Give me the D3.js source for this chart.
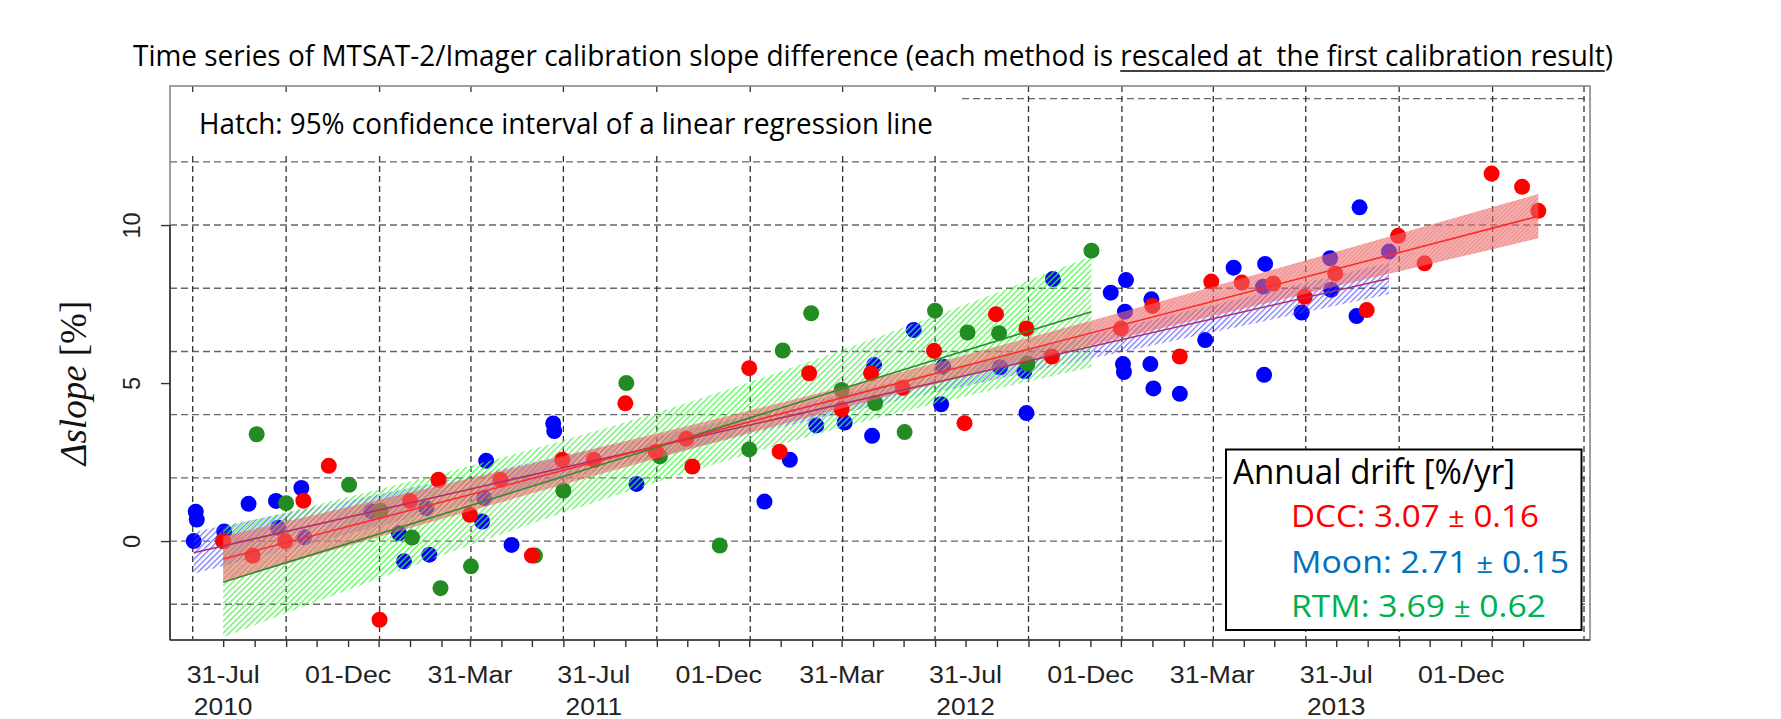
<!DOCTYPE html>
<html>
<head>
<meta charset="utf-8">
<script src="https://cdn.jsdelivr.net/npm/d3@7"></script>
<style>
  body { margin: 0; background: #fff; }
  svg { display: block; }
  text { white-space: pre; }
</style>
</head>
<body>
<div id="chart"></div>
<script>
// MTSAT-2/Imager slope difference
const parseDate = d3.timeParse("%Y-%m-%d");

// DCC (red)
const dccDates = ["2010-07-31","2010-08-29","2010-09-30","2010-10-18","2010-11-12","2011-01-01","2011-01-31","2011-02-28","2011-03-31","2011-04-30","2011-05-31","2011-06-30","2011-07-31","2011-08-31","2011-09-30","2011-10-30","2011-11-05","2011-12-31","2012-01-30","2012-02-28","2012-03-31","2012-04-29","2012-05-30","2012-06-30","2012-07-30","2012-08-30","2012-09-29","2012-10-24","2012-12-31","2013-01-31","2013-02-27","2013-03-30","2013-04-29","2013-05-30","2013-06-30","2013-07-30","2013-08-30","2013-09-30","2013-10-26","2013-12-31","2014-01-30","2014-02-15"];
const dccValues = [0.0,-0.46,0.0,1.28,2.38,-2.49,1.27,1.94,0.83,1.94,-0.46,2.57,2.57,4.36,2.83,3.24,2.36,5.47,2.83,5.31,4.17,5.31,4.85,6.02,3.73,7.18,6.73,5.84,6.73,7.44,5.84,8.21,8.18,8.15,7.73,8.47,7.31,9.66,8.79,11.63,11.21,10.45];

// Moon (blue)
const moonDates = ["2010-07-02","2010-07-04","2010-07-05","2010-08-01","2010-08-25","2010-09-21","2010-09-23","2010-10-16","2010-10-19","2010-12-24","2011-01-20","2011-01-25","2011-02-16","2011-02-19","2011-04-12","2011-04-14","2011-04-16","2011-05-11","2011-06-21","2011-06-22","2011-09-11","2012-01-15","2012-02-09","2012-03-06","2012-04-03","2012-04-30","2012-05-02","2012-06-10","2012-07-07","2012-07-09","2012-09-03","2012-09-27","2012-09-29","2012-10-25","2012-12-21","2013-01-02","2013-01-03","2013-01-04","2013-01-05","2013-01-29","2013-01-30","2013-02-01","2013-02-27","2013-03-24","2013-04-21","2013-05-20","2013-05-21","2013-05-22","2013-06-27","2013-07-25","2013-07-26","2013-08-20","2013-08-23","2013-09-21"];
const moonValues = [0.0,0.93,0.68,0.30,1.18,1.27,0.42,1.68,0.12,0.94,0.25,-0.64,1.04,-0.43,0.62,1.36,2.54,-0.12,3.72,3.48,1.81,1.25,2.57,3.66,3.75,3.33,5.57,6.68,4.33,5.52,5.50,5.38,4.05,8.29,7.86,5.60,5.35,7.26,8.26,5.60,7.65,4.83,4.66,6.36,8.65,8.05,5.26,8.77,7.23,8.95,7.95,7.12,10.56,9.16];

// RTM (green)
const rtmDates = ["2010-07-31","2010-09-02","2010-10-01","2010-12-02","2011-01-02","2011-02-02","2011-03-02","2011-04-01","2011-06-03","2011-07-01","2011-09-01","2011-10-04","2011-12-02","2011-12-31","2012-02-02","2012-03-01","2012-03-31","2012-05-03","2012-06-01","2012-07-01","2012-08-02","2012-09-02","2012-09-30","2012-12-02"];
const rtmValues = [0.0,3.38,1.20,1.78,0.96,0.11,-1.49,-0.80,-0.46,1.60,5.00,2.68,-0.14,2.90,6.03,7.21,4.78,4.37,3.45,7.29,6.60,6.58,5.62,9.19];

// regression lines and 95% band half widths
const dccFitDates = ["2010-07-31","2011-06-19","2012-05-07","2013-03-28","2014-02-15"];
const dccFitMid = [-0.57, 2.14, 4.84, 7.56, 10.28];
const dccFitHalf = [0.72, 0.46, 0.33, 0.46, 0.70];

const moonFitDates = ["2010-07-02","2011-04-21","2012-02-10","2012-11-30","2013-09-21"];
const moonFitMid = [-0.37, 1.80, 3.97, 6.14, 8.31];
const moonFitHalf = [0.66, 0.42, 0.30, 0.38, 0.50];

const rtmFitDates = ["2010-07-31","2011-03-03","2011-10-02","2012-05-02","2012-12-02"];
const rtmFitMid = [-1.30, 0.84, 2.98, 5.14, 7.26];
const rtmFitHalf = [1.74, 1.30, 1.10, 1.28, 1.75];

// axis labels
const yTicks = [0, 5, 10];
const yGrid = [-2, 0, 2, 4, 6, 8, 10, 12, 14];
const xLabelDates = ["2010-07-31","2010-12-01","2011-03-31","2011-07-31","2011-12-01","2012-03-31","2012-07-31","2012-12-01","2013-03-31","2013-07-31","2013-12-01"];
const xLabels = ["31-Jul","01-Dec","31-Mar","31-Jul","01-Dec","31-Mar","31-Jul","01-Dec","31-Mar","31-Jul","01-Dec"];
const xYears = ["2010","","","2011","","","2012","","","2013",""];

const legendRows = [
  { name: "DCC: ", rate: "3.07", err: "0.16", color: "#ff0000", w: 248 },
  { name: "Moon: ", rate: "2.71", err: "0.15", color: "#0070c0", w: 278 },
  { name: "RTM: ", rate: "3.69", err: "0.62", color: "#00b050", w: 255 }
];

// layout
const W = 1781, H = 719;
const plotL = 170, plotR = 1590, plotT = 86, plotB = 640;

const svg = d3.select("#chart").append("svg")
  .attr("width", W).attr("height", H)
  .style("font-family", "'Liberation Sans', Arial, sans-serif");

svg.append("rect").attr("width", W).attr("height", H).attr("fill", "#fff");

const x = d3.scaleTime()
  .domain([parseDate("2010-07-01"), parseDate("2014-04-01")])
  .range([192.7, 1584]);
const y = d3.scaleLinear().domain([-3.13, 14.4]).range([plotB, plotT]);

// hatch patterns
const defs = svg.append("defs");
function hatch(id, color, gap, width, bg) {
  const p = defs.append("pattern")
    .attr("id", id)
    .attr("patternUnits", "userSpaceOnUse")
    .attr("width", gap).attr("height", gap)
    .attr("patternTransform", "rotate(45)");
  if (bg) p.append("rect").attr("width", gap).attr("height", gap).attr("fill", bg);
  p.append("line")
    .attr("x1", 0.5).attr("y1", 0).attr("x2", 0.5).attr("y2", gap)
    .attr("stroke", color).attr("stroke-width", width);
}
hatch("hatchG", "rgba(70,245,70,0.85)", 4.2, 1.7, null);
hatch("hatchB", "rgba(70,70,255,0.75)", 4, 1.5, null);
hatch("hatchR", "rgba(225,80,80,0.35)", 3, 1.2, "rgba(236,112,112,0.55)");

defs.append("clipPath").attr("id", "plotClip")
  .append("rect").attr("x", plotL).attr("y", plotT)
  .attr("width", plotR - plotL).attr("height", plotB - plotT);

// grid
const grid = svg.append("g");
grid.selectAll(".gy").data(yGrid).join("line")
  .attr("x1", plotL).attr("x2", plotR)
  .attr("y1", d => y(d)).attr("y2", d => y(d))
  .attr("stroke", "#666").attr("stroke-width", 1.4)
  .attr("stroke-dasharray", "7,4");
const xGrid = d3.timeMonth.every(3).range(parseDate("2010-07-01"), parseDate("2014-04-02"));
grid.selectAll(".gx").data(xGrid).join("line")
  .attr("x1", d => x(d)).attr("x2", d => x(d))
  .attr("y1", plotT).attr("y2", plotB)
  .attr("stroke", "#333").attr("stroke-width", 1.3)
  .attr("stroke-dasharray", "6,4");

// note box
svg.append("rect").attr("x", plotL + 1).attr("y", 93.5)
  .attr("width", 788).attr("height", 61.5).attr("fill", "#fff");
const note = svg.append("text")
  .attr("x", 199).attr("y", 134)
  .style("font-family", "'Open Sans', sans-serif")
  .style("font-size", "29px")
  .attr("fill", "#000")
  .text("Hatch: 95% confidence interval of a linear regression line");
note.attr("textLength", 734).attr("lengthAdjust", "spacingAndGlyphs");

const marks = svg.append("g").attr("clip-path", "url(#plotClip)");

function rows(dates, values) {
  return dates.map((d, i) => ({ date: parseDate(d), v: values[i] }));
}
function fitRows(dates, mid, half) {
  return dates.map((d, i) => ({ date: parseDate(d), mid: mid[i], half: half[i] }));
}
function drawPoints(data, color) {
  marks.append("g").selectAll("circle").data(data).join("circle")
    .attr("cx", d => x(d.date)).attr("cy", d => y(d.v))
    .attr("r", 8).attr("fill", color);
}
const band = d3.area()
  .x(d => x(d.date))
  .y0(d => y(d.mid - d.half))
  .y1(d => y(d.mid + d.half))
  .curve(d3.curveNatural);
function drawBand(fit, pat) {
  marks.append("path").datum(fit).attr("d", band).attr("fill", `url(#${pat})`);
}
const fitLine = d3.line().x(d => x(d.date)).y(d => y(d.mid));
function drawLine(fit, color) {
  marks.append("path").datum(fit).attr("d", fitLine)
    .attr("fill", "none").attr("stroke", color).attr("stroke-width", 1.6);
}

const dcc = rows(dccDates, dccValues);
const moon = rows(moonDates, moonValues);
const rtm = rows(rtmDates, rtmValues);
const dccFit = fitRows(dccFitDates, dccFitMid, dccFitHalf);
const moonFit = fitRows(moonFitDates, moonFitMid, moonFitHalf);
const rtmFit = fitRows(rtmFitDates, rtmFitMid, rtmFitHalf);

drawPoints(moon, "#0000ff");
drawBand(moonFit, "hatchB");
drawBand(rtmFit, "hatchG");
drawPoints(rtm, "#228b22");
drawPoints(dcc, "#ff0000");
drawBand(dccFit, "hatchR");
drawLine(moonFit, "#b0306a");
drawLine(rtmFit, "#2e8b2e");
drawLine(dccFit, "#ff2a2a");

// frame
svg.append("rect").attr("x", plotL).attr("y", plotT)
  .attr("width", plotR - plotL).attr("height", plotB - plotT)
  .attr("fill", "none").attr("stroke", "#888").attr("stroke-width", 1.6);
svg.append("line").attr("x1", plotL).attr("x2", plotR)
  .attr("y1", plotB).attr("y2", plotB)
  .attr("stroke", "#333").attr("stroke-width", 1.6);
svg.append("line").attr("x1", plotL).attr("x2", plotL)
  .attr("y1", y(10)).attr("y2", plotB)
  .attr("stroke", "#333").attr("stroke-width", 1.6);

// x axis: monthly ticks, labels every 4 months
const monthTicks = d3.range(0, 43).map(k => new Date(2010, 6 + k, 31));
const xAxis = svg.append("g")
  .attr("transform", `translate(0,${plotB})`)
  .call(d3.axisBottom(x).tickValues(monthTicks).tickSize(7).tickSizeOuter(0).tickFormat(() => ""));
xAxis.select(".domain").remove();
xAxis.selectAll(".tick line").attr("stroke", "#333").attr("stroke-width", 1.4);
xAxis.selectAll(".tick text").remove();

const xl = svg.append("g").attr("fill", "#222")
  .style("font-size", "23.5px");
xLabelDates.forEach((d, i) => {
  const t = xl.append("text")
    .attr("x", x(parseDate(d))).attr("y", 683)
    .attr("text-anchor", "middle")
    .text(xLabels[i]);
  t.attr("textLength", t.node().getComputedTextLength() * 1.14)
    .attr("lengthAdjust", "spacingAndGlyphs");
  if (xYears[i]) {
    const yt = xl.append("text")
      .attr("x", x(parseDate(d))).attr("y", 715)
      .attr("text-anchor", "middle")
      .text(xYears[i]);
    yt.attr("textLength", yt.node().getComputedTextLength() * 1.12)
      .attr("lengthAdjust", "spacingAndGlyphs");
  }
});

// y axis
const yAxis = svg.append("g")
  .attr("transform", `translate(${plotL},0)`)
  .call(d3.axisLeft(y).tickValues(yTicks).tickSize(9).tickSizeOuter(0));
yAxis.select(".domain").remove();
yAxis.selectAll(".tick line").attr("stroke", "#333").attr("stroke-width", 1.4);
yAxis.selectAll(".tick text")
  .attr("x", null).attr("dy", null)
  .attr("text-anchor", "middle")
  .attr("transform", "translate(-30,0) rotate(-90)")
  .attr("fill", "#222")
  .style("font-size", "23.5px")
  .style("font-family", "'Liberation Sans', Arial, sans-serif");

// y title
const yTitle = svg.append("text")
  .attr("transform", "translate(86,383) rotate(-90)")
  .attr("text-anchor", "middle")
  .style("font-family", "'Liberation Serif', 'Times New Roman', serif")
  .style("font-size", "37px")
  .attr("fill", "#111");
yTitle.append("tspan").style("font-style", "italic").text("\u0394slope");
yTitle.append("tspan").text(" [%]");

// title with underline
const part1 = "Time series of MTSAT-2/Imager calibration slope difference (each method is ";
const part2 = "rescaled at  the first calibration result";
const part3 = ")";
const title = svg.append("text")
  .attr("x", 133).attr("y", 66)
  .style("font-family", "'Open Sans', sans-serif")
  .style("font-size", "30px")
  .attr("fill", "#000")
  .text(part1 + part2 + part3)
  .attr("textLength", 1480)
  .attr("lengthAdjust", "spacingAndGlyphs");
const tn = title.node();
const u0 = tn.getStartPositionOfChar(part1.length).x;
const u1 = tn.getEndPositionOfChar(part1.length + part2.length - 1).x;
svg.append("line").attr("x1", u0).attr("x2", u1)
  .attr("y1", 71).attr("y2", 71)
  .attr("stroke", "#000").attr("stroke-width", 1.6);

// legend
const lg = svg.append("g");
lg.append("rect").attr("x", 1226).attr("y", 449.5)
  .attr("width", 355.5).attr("height", 180.5)
  .attr("fill", "#fff").attr("stroke", "#000").attr("stroke-width", 2);
lg.append("text").attr("x", 1233).attr("y", 484)
  .style("font-family", "'Open Sans', sans-serif")
  .style("font-size", "35px").attr("fill", "#000")
  .text("Annual drift [%/yr]")
  .attr("textLength", 282).attr("lengthAdjust", "spacingAndGlyphs");
const rowY = [527, 573, 617];
legendRows.forEach((r, i) => {
  const t = lg.append("text").attr("x", 1291).attr("y", rowY[i])
    .style("font-family", "'Open Sans', sans-serif")
    .style("font-size", "31px").attr("fill", r.color);
  t.append("tspan").text(r.name + r.rate + " ");
  t.append("tspan").style("font-size", "27px").text("\u00b1");
  t.append("tspan").text(" " + r.err);
  t.attr("textLength", r.w).attr("lengthAdjust", "spacingAndGlyphs");
});
</script>
</body>
</html>
